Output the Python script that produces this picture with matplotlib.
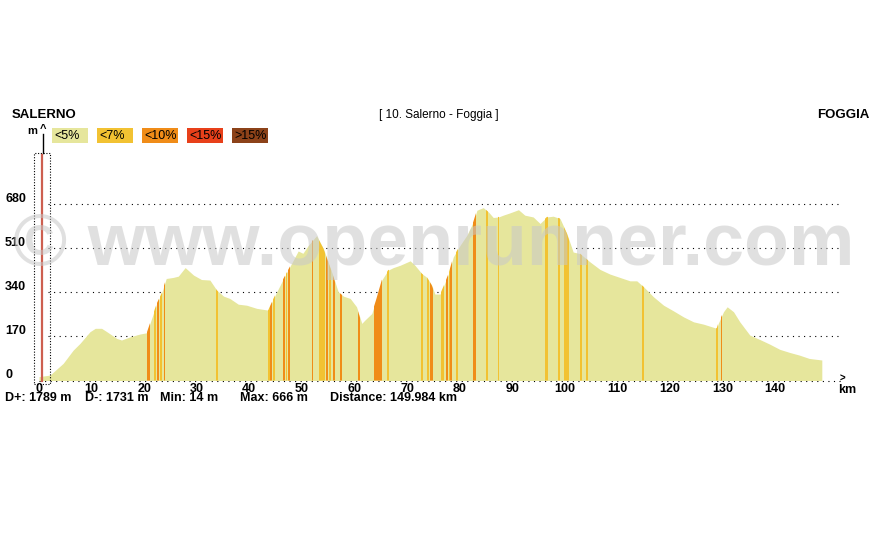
import matplotlib
matplotlib.use("Agg")
import matplotlib.pyplot as plt
from matplotlib.patches import Rectangle
from matplotlib.lines import Line2D

plt.rcParams["font.family"] = ["Liberation Sans", "DejaVu Sans"]

W, H = 881, 540

# profile (km, m)
km = [0.0, 1.1, 2.1, 4.6, 6.5, 7.8, 9.7, 10.7, 11.9, 12.9, 14.8, 15.7, 17.3, 19.2,
      20.5, 21.1, 22.4, 23.3, 24.2, 25.5, 26.5, 27.8, 29.4, 30.9, 32.5, 33.8, 35.1,
      36.3, 37.9, 39.5, 41.4, 43.6, 44.6, 46.5, 47.7, 49.3, 50.2, 51.2, 52.8, 54.1,
      55.0, 56.0, 56.9, 57.9, 59.2, 60.4, 61.1, 61.4, 62.0, 63.3, 64.2, 65.2, 66.4,
      67.4, 68.7, 70.6, 71.5, 72.8, 73.8, 74.7, 75.3, 76.3, 76.9, 77.9, 78.8, 80.1,
      81.4, 82.6, 83.3, 84.5, 85.5, 86.4, 87.4, 88.3, 89.6, 91.2, 92.4, 94.0, 95.3,
      96.6, 97.8, 99.1, 100.4, 101.6, 102.9, 104.8, 106.7, 108.6, 110.5, 112.4,
      113.7, 115.0, 116.9, 118.8, 120.7, 122.6, 124.5, 126.4, 128.9, 129.2, 130.2,
      130.9, 132.1, 133.3, 135.2, 137.1, 139.0, 140.9, 142.8, 144.6, 146.5, 148.9]
elev = [15, 18, 21, 66, 117, 143, 188, 201, 201, 188, 162, 156, 168, 179,
        184, 220, 297, 335, 393, 397, 402, 435, 406, 389, 387, 348, 325,
        316, 294, 290, 278, 271, 316, 393, 438, 499, 490, 520, 558, 508,
        457, 399, 342, 325, 316, 284, 239, 220, 233, 258, 316, 387, 425,
        435, 444, 461, 444, 412, 397, 367, 333, 333, 361, 412, 476, 521,
        560, 611, 656, 666, 649, 628, 630, 637, 646, 658, 637, 630, 605,
        630, 633, 624, 566, 495, 489, 457, 428, 410, 397, 384,
        384, 361, 322, 290, 268, 245, 226, 217, 201, 220, 265,
        284, 265, 226, 175, 158, 140, 120, 108, 98, 85, 79]

# slope stripes: start km, end km, class (index into slope_labels)
stripe_start = [20.6, 21.9, 22.4, 23.0, 23.7, 33.75, 43.55, 44.0, 44.55, 46.35, 46.9, 47.45,
                51.85, 53.3, 54.65, 55.15, 55.95, 57.25, 60.6, 63.8, 66.25, 72.65, 73.85, 74.4,
                76.4, 77.4, 77.9, 78.2, 79.35, 82.5, 85.05, 87.25, 96.3, 98.8, 99.9, 102.95,
                104.05, 114.75, 128.85, 129.65]
stripe_end = [21.2, 22.3, 22.8, 23.4, 24.0, 34.05, 43.85, 44.35, 44.9, 46.7, 47.25, 47.75,
              52.15, 54.4, 54.95, 55.45, 56.25, 57.55, 61.1, 65.2, 66.55, 72.95, 74.15, 74.9,
              77.0, 77.8, 78.1, 78.5, 79.65, 83.1, 85.35, 87.55, 96.9, 99.1, 100.8, 103.25,
              104.35, 115.05, 129.15, 129.95]
stripe_class = [2, 1, 2, 1, 2, 1, 1, 2, 1, 2, 1, 2,
                2, 1, 2, 1, 2, 2, 2, 2, 1, 1, 1, 2,
                1, 2, 1, 2, 1, 2, 1, 1, 1, 1, 1, 1,
                1, 1, 1, 2]

slope_labels = ["<5%", "<7%", "<10%", "<15%", ">15%"]
slope_colors = ["#e6e69c", "#f2c232", "#f08c18", "#e8401a", "#8c4219"]

y_ticks = [0, 170, 340, 510, 680]
x_ticks = [0, 10, 20, 30, 40, 50, 60, 70, 80, 90, 100, 110, 120, 130, 140]

stats = [("D+: 1789 m", 5), ("D-: 1731 m", 85), ("Min: 14 m", 160),
         ("Max: 666 m", 240), ("Distance: 149.984 km", 330)]


def fx(x):
    return x / W


def fy(y):
    return 1 - y / H


fig = plt.figure(figsize=(W / 100, H / 100), dpi=100)
ax = fig.add_axes([fx(39), fy(380.5), 788.6 / W, 176.5 / H])
ax.set_xlim(0, 150)
ax.set_ylim(0, 680)
ax.axis("off")

# dotted grid + baseline
ax.hlines(y_ticks[1:], 1.8, 152.6, colors="black", linewidth=0.8,
          linestyles=(0, (1, 4)), zorder=1, clip_on=False)
ax.hlines(0, 0, 153, colors="black", linewidth=0.8,
          linestyles=(0, (1, 4)), zorder=1, clip_on=False)

# profile
poly = ax.fill_between(km, elev, 0, color=slope_colors[0], linewidth=0, zorder=2)
clip = poly.get_paths()[0]
for a, b, c in zip(stripe_start, stripe_end, stripe_class):
    r = ax.axvspan(a, b, color=slope_colors[c], linewidth=0, zorder=2.5)
    r.set_clip_path(clip, ax.transData)

# tick labels
for v in y_ticks:
    ax.annotate(str(v), xy=(5, v), xycoords=("figure pixels", "data"),
                xytext=(0, 5), textcoords="offset pixels", ha="left", va="center",
                fontsize=9, fontweight="bold", annotation_clip=False)
for k in x_ticks:
    ax.annotate(str(k), xy=(k, 0), xytext=(0, -8), textcoords="offset pixels",
                ha="center", va="center", fontsize=9, fontweight="bold",
                annotation_clip=False)
ax.annotate(">", xy=(153, 0), xytext=(-1, 2), textcoords="offset pixels",
            ha="center", va="center", fontsize=7, fontweight="bold", annotation_clip=False)
fig.text(fx(847), fy(390), "km", ha="center", va="center", fontsize=9, fontweight="bold")

# start marker and y-axis arrow
fig.add_artist(Rectangle((fx(34), fy(384)), 16 / W, 231 / H, transform=fig.transFigure,
                         fill=False, edgecolor="black", linewidth=0.8, linestyle=(0, (1, 1.5))))
fig.add_artist(Line2D([fx(41.5), fx(41.5)], [fy(381), fy(155)], transform=fig.transFigure,
                      color="#cd5f50", linewidth=1.6))
fig.add_artist(Line2D([fx(42.5), fx(42.5)], [fy(153), fy(134)], transform=fig.transFigure,
                      color="black", linewidth=1))
fig.text(fx(27), fy(131), "m", ha="left", va="center", fontsize=8, fontweight="bold")
fig.text(fx(42.5), fy(129), "^", ha="center", va="center", fontsize=8, fontweight="bold")

# legend boxes
for i, (lab, col) in enumerate(zip(slope_labels, slope_colors)):
    x0 = 52 + 45 * i
    fig.add_artist(Rectangle((fx(x0), fy(143)), 36 / W, 15 / H, transform=fig.transFigure,
                             facecolor=col, edgecolor="none"))
    fig.text(fx(x0 + 2), fy(135.5), lab, ha="left", va="center", fontsize=9, color="black")

# header
fig.text(fx(12), fy(115), "SALERNO", ha="left", va="center", fontsize=9.5, fontweight="bold")
fig.text(fx(870), fy(115), "FOGGIA", ha="right", va="center", fontsize=9.5, fontweight="bold")
fig.text(fx(439), fy(115), "[ 10. Salerno - Foggia ]", ha="center", va="center", fontsize=8.5)

# stats line
for s, x0 in stats:
    fig.text(fx(x0), fy(398), s, ha="left", va="center", fontsize=9, fontweight="bold")

# watermark
fig.text(fx(434), fy(246), "\u00a9 www.openrunner.com", ha="center", va="center",
         fontsize=53, fontweight="bold", color="#c8c8c8", alpha=0.55, zorder=5)

fig.savefig("out.png", dpi=100)
